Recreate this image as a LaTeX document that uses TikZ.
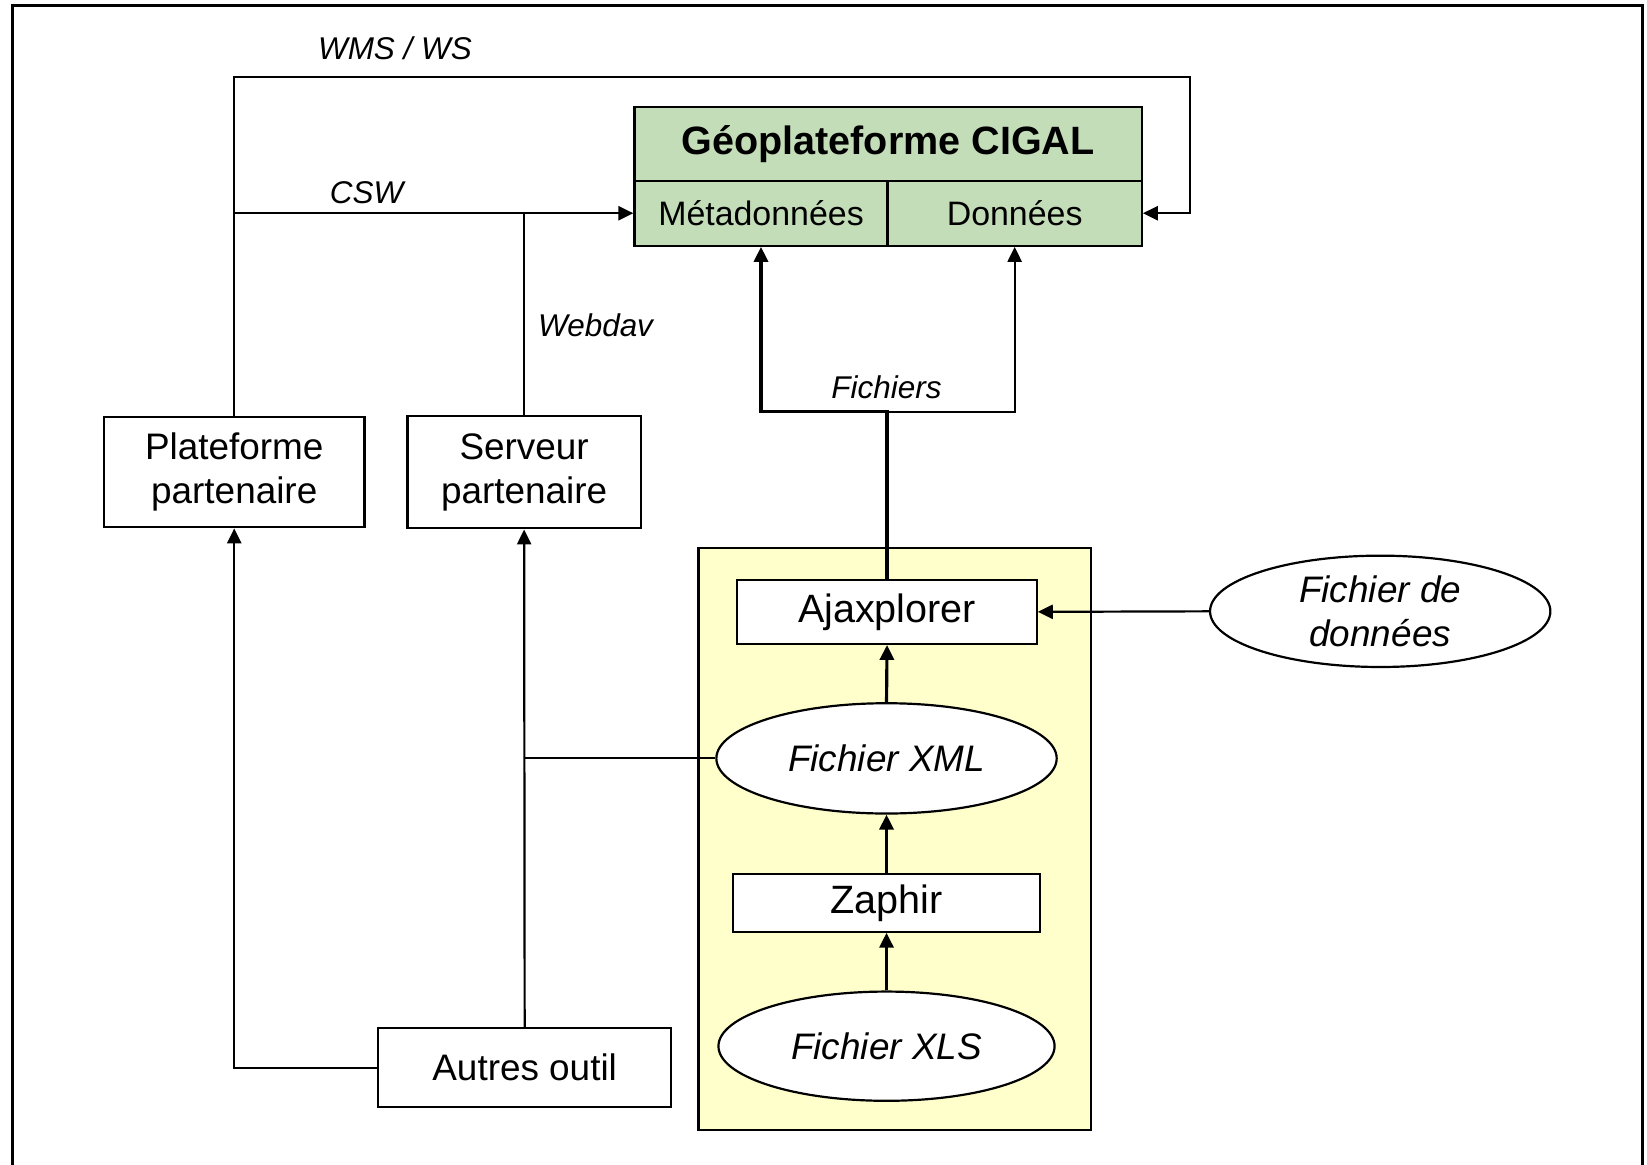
\documentclass[tikz,border=0pt]{standalone}
\usepackage{fontspec}
\setmainfont{Liberation Sans}
\usetikzlibrary{shapes.geometric,arrows.meta}
\definecolor{cigalgreen}{HTML}{C3DDB8}
\definecolor{paleyellow}{HTML}{FFFFCC}
\newdimen\pxu
\pxu=0.021008cm
\tikzset{
  box/.style={draw,line width=1.25pt,fill=white,inner sep=0pt,align=center,font=\fontsize{21pt}{25pt}\selectfont},
  gbox/.style={box,fill=cigalgreen},
  oval/.style={draw,line width=1.25pt,fill=white,ellipse,inner sep=0pt,align=center,font=\fontsize{21pt}{25pt}\selectfont\itshape},
  lbl/.style={font=\fontsize{17.9pt}{21pt}\selectfont\itshape,inner sep=0pt},
  conn/.style={line width=1.25pt},
  arr/.style={conn,-{Triangle[length=8.5pt,width=8pt]}},
  arrthick/.style={line width=1.8pt,-{Triangle[length=8.5pt,width=8pt]}},
}
\begin{document}
\begin{tikzpicture}[x=\pxu,y=-\pxu]
\useasboundingbox (0,0) rectangle (1568,1109.1);
% outer frame
\draw[line width=1.7pt] (11.5,1110) -- (11.5,4.8) -- (1564,4.8) -- (1564,1110);

% yellow area
\node[draw,line width=1.25pt,fill=paleyellow,minimum width=374\pxu,minimum height=554\pxu,inner sep=0pt] (zone) at (852,799) {};

% CIGAL
\node[gbox,minimum width=483\pxu,minimum height=72\pxu,font=\fontsize{22.5pt}{25pt}\selectfont\bfseries] (title) at (845.5,137.5) {Géoplateforme CIGAL};
\node[gbox,minimum width=241\pxu,minimum height=62\pxu,font=\fontsize{19.3pt}{23pt}\selectfont] (meta) at (724.5,203) {Métadonnées};
\node[gbox,minimum width=242\pxu,minimum height=62\pxu,font=\fontsize{19.3pt}{23pt}\selectfont] (donnees) at (966,203) {Données};

% partner boxes
\node[box,minimum width=248\pxu,minimum height=105\pxu] (plat) at (223,449.5) {Plateforme\\partenaire};
\node[box,minimum width=222\pxu,minimum height=107\pxu] (serv) at (499,449.5) {Serveur\\partenaire};
\node[box,minimum width=279\pxu,minimum height=75\pxu] (autres) at (499.5,1016.5) {Autres outil};

% chain
\node[box,minimum width=285\pxu,minimum height=61\pxu,font=\fontsize{22.5pt}{25pt}\selectfont] (ajax) at (844.5,582.5) {Ajaxplorer};
\node[oval,minimum width=324\pxu,minimum height=105\pxu] (xml) at (844,722) {Fichier XML};
\node[box,minimum width=292\pxu,minimum height=55\pxu,font=\fontsize{22.5pt}{25pt}\selectfont] (zaphir) at (844,859.5) {Zaphir};
\node[oval,minimum width=320\pxu,minimum height=104\pxu] (xls) at (844,996) {Fichier XLS};
\node[oval,minimum width=324\pxu,minimum height=106\pxu] (fdd) at (1314,582) {Fichier de\\données};

% coordinates
\coordinate (wmsL) at (223,73);
\coordinate (wmsR) at (1133,73);
\coordinate (fj) at (844.5,392);

% connectors
\draw[arr] (plat.north) -- (wmsL) -- (wmsR) |- (donnees.east);
\draw[arr] (plat.north |- meta.west) -- (meta.west);
\draw[conn] (serv.north) -- (serv.north |- meta.west);
\draw[arr] (autres.north) -- (serv.south);
\draw[arr] (autres.west) -| (plat.south);
\draw[conn] (xml.west) -- (xml.west -| autres.north);
\draw[arrthick] (ajax.north) -- (fj) -| (meta.south);
\draw[arr] (fj) -| (donnees.south);
\draw[arr] (fdd.west) -- (ajax.east);
\draw[arrthick] (xml.north) -- (ajax.south);
\draw[arrthick] (zaphir.north) -- (xml.south);
\draw[arrthick] (xls.north) -- (zaphir.south);

% labels
\node[lbl] (lwms) at (376,46) {WMS / WS};
\node[lbl] (lcsw) at (349,183) {CSW};
\node[lbl] (lweb) at (567,310) {Webdav};
\node[lbl] (lfic) at (844,369) {Fichiers};
\end{tikzpicture}
\end{document}
